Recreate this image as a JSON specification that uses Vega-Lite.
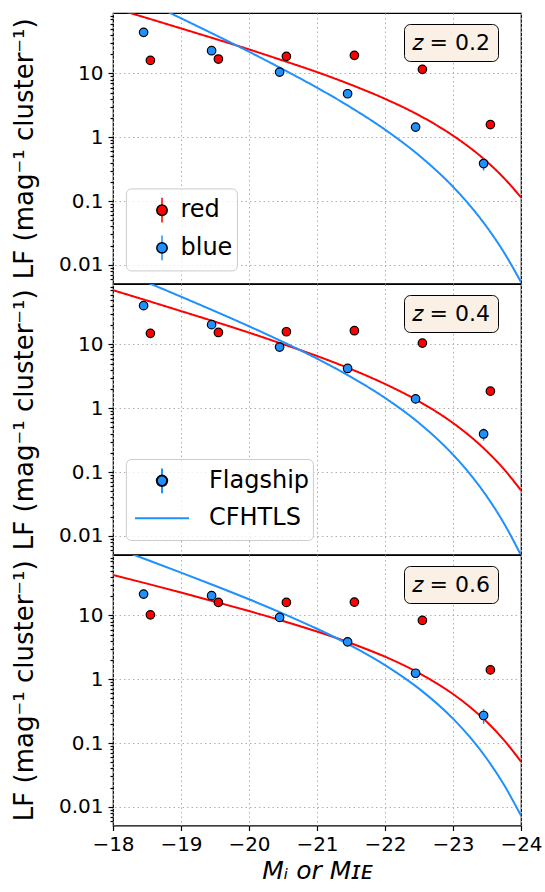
{
  "$schema": "https://vega.github.io/schema/vega-lite/v6.json",
  "padding": {"left": 10, "top": 12, "right": 5, "bottom": 5},
  "spacing": 0,
  "bounds": "flush",
  "datasets": {
    "curves": [
      {"z": 0.2, "sample": "red", "M": -18, "LF": 106},
      {"z": 0.2, "sample": "red", "M": -18.5, "LF": 73.7},
      {"z": 0.2, "sample": "red", "M": -19, "LF": 50.8},
      {"z": 0.2, "sample": "red", "M": -19.5, "LF": 34.9},
      {"z": 0.2, "sample": "red", "M": -20, "LF": 23.8},
      {"z": 0.2, "sample": "red", "M": -20.5, "LF": 15.9},
      {"z": 0.2, "sample": "red", "M": -21, "LF": 10.5},
      {"z": 0.2, "sample": "red", "M": -21.5, "LF": 6.65},
      {"z": 0.2, "sample": "red", "M": -22, "LF": 4.0},
      {"z": 0.2, "sample": "red", "M": -22.5, "LF": 2.21},
      {"z": 0.2, "sample": "red", "M": -23, "LF": 1.06},
      {"z": 0.2, "sample": "red", "M": -23.25, "LF": 0.685},
      {"z": 0.2, "sample": "red", "M": -23.5, "LF": 0.413},
      {"z": 0.2, "sample": "red", "M": -23.75, "LF": 0.229},
      {"z": 0.2, "sample": "red", "M": -24, "LF": 0.114},
      {"z": 0.2, "sample": "blue", "M": -18, "LF": 237},
      {"z": 0.2, "sample": "blue", "M": -18.5, "LF": 132},
      {"z": 0.2, "sample": "blue", "M": -19, "LF": 73.2},
      {"z": 0.2, "sample": "blue", "M": -19.5, "LF": 40.3},
      {"z": 0.2, "sample": "blue", "M": -20, "LF": 21.9},
      {"z": 0.2, "sample": "blue", "M": -20.5, "LF": 11.6},
      {"z": 0.2, "sample": "blue", "M": -21, "LF": 5.98},
      {"z": 0.2, "sample": "blue", "M": -21.5, "LF": 2.92},
      {"z": 0.2, "sample": "blue", "M": -22, "LF": 1.316},
      {"z": 0.2, "sample": "blue", "M": -22.5, "LF": 0.52},
      {"z": 0.2, "sample": "blue", "M": -23, "LF": 0.1674},
      {"z": 0.2, "sample": "blue", "M": -23.25, "LF": 0.0848},
      {"z": 0.2, "sample": "blue", "M": -23.5, "LF": 0.0388},
      {"z": 0.2, "sample": "blue", "M": -23.75, "LF": 0.01564},
      {"z": 0.2, "sample": "blue", "M": -24, "LF": 0.00537},
      {"z": 0.4, "sample": "red", "M": -18, "LF": 70.8},
      {"z": 0.4, "sample": "red", "M": -18.5, "LF": 48.7},
      {"z": 0.4, "sample": "red", "M": -19, "LF": 33.3},
      {"z": 0.4, "sample": "red", "M": -19.5, "LF": 22.7},
      {"z": 0.4, "sample": "red", "M": -20, "LF": 15.3},
      {"z": 0.4, "sample": "red", "M": -20.5, "LF": 10.1},
      {"z": 0.4, "sample": "red", "M": -21, "LF": 6.58},
      {"z": 0.4, "sample": "red", "M": -21.5, "LF": 4.10},
      {"z": 0.4, "sample": "red", "M": -22, "LF": 2.40},
      {"z": 0.4, "sample": "red", "M": -22.5, "LF": 1.281},
      {"z": 0.4, "sample": "red", "M": -23, "LF": 0.587},
      {"z": 0.4, "sample": "red", "M": -23.25, "LF": 0.365},
      {"z": 0.4, "sample": "red", "M": -23.5, "LF": 0.2105},
      {"z": 0.4, "sample": "red", "M": -23.75, "LF": 0.1106},
      {"z": 0.4, "sample": "red", "M": -24, "LF": 0.0516},
      {"z": 0.4, "sample": "blue", "M": -18, "LF": 156},
      {"z": 0.4, "sample": "blue", "M": -18.5, "LF": 93.9},
      {"z": 0.4, "sample": "blue", "M": -19, "LF": 56.0},
      {"z": 0.4, "sample": "blue", "M": -19.5, "LF": 33.1},
      {"z": 0.4, "sample": "blue", "M": -20, "LF": 19.25},
      {"z": 0.4, "sample": "blue", "M": -20.5, "LF": 10.94},
      {"z": 0.4, "sample": "blue", "M": -21, "LF": 5.99},
      {"z": 0.4, "sample": "blue", "M": -21.5, "LF": 3.09},
      {"z": 0.4, "sample": "blue", "M": -22, "LF": 1.45},
      {"z": 0.4, "sample": "blue", "M": -22.5, "LF": 0.587},
      {"z": 0.4, "sample": "blue", "M": -23, "LF": 0.187},
      {"z": 0.4, "sample": "blue", "M": -23.25, "LF": 0.0929},
      {"z": 0.4, "sample": "blue", "M": -23.5, "LF": 0.0411},
      {"z": 0.4, "sample": "blue", "M": -23.75, "LF": 0.01567},
      {"z": 0.4, "sample": "blue", "M": -24, "LF": 0.00497},
      {"z": 0.6, "sample": "red", "M": -18, "LF": 43.2},
      {"z": 0.6, "sample": "red", "M": -18.5, "LF": 31.5},
      {"z": 0.6, "sample": "red", "M": -19, "LF": 22.8},
      {"z": 0.6, "sample": "red", "M": -19.5, "LF": 16.4},
      {"z": 0.6, "sample": "red", "M": -20, "LF": 11.7},
      {"z": 0.6, "sample": "red", "M": -20.5, "LF": 8.20},
      {"z": 0.6, "sample": "red", "M": -21, "LF": 5.60},
      {"z": 0.6, "sample": "red", "M": -21.5, "LF": 3.67},
      {"z": 0.6, "sample": "red", "M": -22, "LF": 2.255},
      {"z": 0.6, "sample": "red", "M": -22.5, "LF": 1.249},
      {"z": 0.6, "sample": "red", "M": -23, "LF": 0.587},
      {"z": 0.6, "sample": "red", "M": -23.25, "LF": 0.368},
      {"z": 0.6, "sample": "red", "M": -23.5, "LF": 0.2131},
      {"z": 0.6, "sample": "red", "M": -23.75, "LF": 0.1113},
      {"z": 0.6, "sample": "red", "M": -24, "LF": 0.0512},
      {"z": 0.6, "sample": "blue", "M": -18, "LF": 118},
      {"z": 0.6, "sample": "blue", "M": -18.5, "LF": 74.6},
      {"z": 0.6, "sample": "blue", "M": -19, "LF": 46.9},
      {"z": 0.6, "sample": "blue", "M": -19.5, "LF": 29.2},
      {"z": 0.6, "sample": "blue", "M": -20, "LF": 17.9},
      {"z": 0.6, "sample": "blue", "M": -20.5, "LF": 10.7},
      {"z": 0.6, "sample": "blue", "M": -21, "LF": 6.18},
      {"z": 0.6, "sample": "blue", "M": -21.5, "LF": 3.37},
      {"z": 0.6, "sample": "blue", "M": -22, "LF": 1.668},
      {"z": 0.6, "sample": "blue", "M": -22.5, "LF": 0.713},
      {"z": 0.6, "sample": "blue", "M": -23, "LF": 0.241},
      {"z": 0.6, "sample": "blue", "M": -23.25, "LF": 0.1233},
      {"z": 0.6, "sample": "blue", "M": -23.5, "LF": 0.0562},
      {"z": 0.6, "sample": "blue", "M": -23.75, "LF": 0.02214},
      {"z": 0.6, "sample": "blue", "M": -24, "LF": 0.00727}
    ],
    "points": [
      {"z": 0.2, "sample": "blue", "M": -18.45, "LF": 44, "lo": 41, "hi": 47},
      {"z": 0.2, "sample": "blue", "M": -19.45, "LF": 22.7, "lo": 21.2, "hi": 24.2},
      {"z": 0.2, "sample": "blue", "M": -20.45, "LF": 10.5, "lo": 9.8, "hi": 11.2},
      {"z": 0.2, "sample": "blue", "M": -21.45, "LF": 4.8, "lo": 4.4, "hi": 5.2},
      {"z": 0.2, "sample": "blue", "M": -22.45, "LF": 1.44, "lo": 1.25, "hi": 1.63},
      {"z": 0.2, "sample": "blue", "M": -23.45, "LF": 0.387, "lo": 0.30, "hi": 0.47},
      {"z": 0.2, "sample": "red", "M": -18.55, "LF": 16.0, "lo": 14.8, "hi": 17.2},
      {"z": 0.2, "sample": "red", "M": -19.55, "LF": 16.8, "lo": 15.6, "hi": 18.0},
      {"z": 0.2, "sample": "red", "M": -20.55, "LF": 18.5, "lo": 17.3, "hi": 19.7},
      {"z": 0.2, "sample": "red", "M": -21.55, "LF": 19.2, "lo": 18.0, "hi": 20.4},
      {"z": 0.2, "sample": "red", "M": -22.55, "LF": 11.6, "lo": 10.7, "hi": 12.5},
      {"z": 0.2, "sample": "red", "M": -23.55, "LF": 1.58, "lo": 1.35, "hi": 1.81},
      {"z": 0.4, "sample": "blue", "M": -18.45, "LF": 40.5, "lo": 37.8, "hi": 43.2},
      {"z": 0.4, "sample": "blue", "M": -19.45, "LF": 20.4, "lo": 19.0, "hi": 21.8},
      {"z": 0.4, "sample": "blue", "M": -20.45, "LF": 9.1, "lo": 8.5, "hi": 9.7},
      {"z": 0.4, "sample": "blue", "M": -21.45, "LF": 4.2, "lo": 3.85, "hi": 4.55},
      {"z": 0.4, "sample": "blue", "M": -22.45, "LF": 1.40, "lo": 1.22, "hi": 1.58},
      {"z": 0.4, "sample": "blue", "M": -23.45, "LF": 0.395, "lo": 0.31, "hi": 0.48},
      {"z": 0.4, "sample": "red", "M": -18.55, "LF": 14.9, "lo": 13.8, "hi": 16.0},
      {"z": 0.4, "sample": "red", "M": -19.55, "LF": 15.4, "lo": 14.3, "hi": 16.5},
      {"z": 0.4, "sample": "red", "M": -20.55, "LF": 15.8, "lo": 14.7, "hi": 16.9},
      {"z": 0.4, "sample": "red", "M": -21.55, "LF": 16.4, "lo": 15.3, "hi": 17.5},
      {"z": 0.4, "sample": "red", "M": -22.55, "LF": 10.5, "lo": 9.7, "hi": 11.3},
      {"z": 0.4, "sample": "red", "M": -23.55, "LF": 1.85, "lo": 1.6, "hi": 2.1},
      {"z": 0.6, "sample": "blue", "M": -18.45, "LF": 21.6, "lo": 20.0, "hi": 23.2},
      {"z": 0.6, "sample": "blue", "M": -19.45, "LF": 20.4, "lo": 19.0, "hi": 21.8},
      {"z": 0.6, "sample": "blue", "M": -20.45, "LF": 9.3, "lo": 8.7, "hi": 9.9},
      {"z": 0.6, "sample": "blue", "M": -21.45, "LF": 3.86, "lo": 3.55, "hi": 4.17},
      {"z": 0.6, "sample": "blue", "M": -22.45, "LF": 1.24, "lo": 1.08, "hi": 1.40},
      {"z": 0.6, "sample": "blue", "M": -23.45, "LF": 0.27, "lo": 0.20, "hi": 0.34},
      {"z": 0.6, "sample": "red", "M": -18.55, "LF": 10.2, "lo": 9.4, "hi": 11.0},
      {"z": 0.6, "sample": "red", "M": -19.55, "LF": 16.0, "lo": 14.9, "hi": 17.1},
      {"z": 0.6, "sample": "red", "M": -20.55, "LF": 16.0, "lo": 14.9, "hi": 17.1},
      {"z": 0.6, "sample": "red", "M": -21.55, "LF": 16.2, "lo": 15.1, "hi": 17.3},
      {"z": 0.6, "sample": "red", "M": -22.55, "LF": 8.35, "lo": 7.7, "hi": 9.0},
      {"z": 0.6, "sample": "red", "M": -23.55, "LF": 1.40, "lo": 1.2, "hi": 1.6}
    ]
  },
  "vconcat": [
    {
      "width": 408,
      "height": 270.5,
      "layer": [
        {
          "data": {"name": "curves"},
          "transform": [{"filter": "datum.z == 0.2"}],
          "mark": {"type": "line", "clip": true, "strokeWidth": 2, "interpolate": "monotone"},
          "encoding": {
            "x": {"field": "M", "type": "quantitative", "scale": {"domain": [-24, -18], "reverse": true, "nice": false, "zero": false},
                  "axis": {"values": [-18, -19, -20, -21, -22, -23, -24], "labels": false, "ticks": false, "title": null, "grid": true, "domain": false}},
            "y": {"field": "LF", "type": "quantitative", "scale": {"type": "log", "domain": [0.0051, 88.5], "nice": false},
                  "axis": {"orient": "left", "values": [0.01, 0.1, 1, 10], "format": "~g", "tickSize": 5, "labelPadding": 5, "grid": true, "title": "LF (mag⁻¹ cluster⁻¹)", "titlePadding": 21, "domain": false}},
            "color": {"field": "sample", "type": "nominal", "scale": {"domain": ["red", "blue"], "range": ["#ff0000", "#1e90ff"]}, "legend": null},
            "strokeDash": {"datum": "L-red", "type": "nominal", "scale": {"domain": ["L-red", "L-blue"], "range": [[1, 0], [1, 0]]},
              "legend": {"orient": "none", "legendX": 12.9, "legendY": 175.4, "title": null, "padding": 3.8, "rowPadding": 1.7, "clipHeight": 36,
                "symbolSize": 1156, "symbolStrokeWidth": 1.5, "symbolStrokeColor": "#ff0000", "symbolOffset": 14.3,
                "labelOffset": 0.5, "labelFontSize": 24, "labelColor": "black", "labelExpr": "replace(datum.label, 'L-', '')",
                "fillColor": "rgba(255,255,255,0.8)", "strokeColor": "#cccccc", "cornerRadius": 5,
                "encode": {"symbols": {"update": {
                  "shape": {"value": "M0,-0.73L0,0.73"},
                  "stroke": {"signal": "datum.value === 'L-red' ? '#ff0000' : '#1e90ff'"},
                  "strokeDash": {"value": [1, 0]}}}}}}
          }
        },
        {
          "data": {"name": "points"},
          "transform": [{"filter": "datum.z == 0.2"}],
          "mark": {"type": "rule", "strokeWidth": 1.5},
          "encoding": {
            "x": {"field": "M", "type": "quantitative"},
            "y": {"field": "lo", "type": "quantitative", "axis": null},
            "y2": {"field": "hi"},
            "stroke": {"field": "sample", "type": "nominal", "scale": {"domain": ["red", "blue"], "range": ["#ff0000", "#1e90ff"]}, "legend": null}
          }
        },
        {
          "data": {"name": "points"},
          "transform": [{"filter": "datum.z == 0.2"}],
          "mark": {"type": "point", "filled": true, "size": 72, "stroke": "black", "strokeWidth": 1.2, "opacity": 1},
          "encoding": {
            "x": {"field": "M", "type": "quantitative"},
            "y": {"field": "LF", "type": "quantitative",
                  "axis": {"orient": "left", "values": [0.006, 0.007, 0.008, 0.009, 0.02, 0.03, 0.04, 0.05, 0.06, 0.07, 0.08, 0.09, 0.2, 0.3, 0.4, 0.5, 0.6, 0.7, 0.8, 0.9, 2, 3, 4, 5, 6, 7, 8, 9, 20, 30, 40, 50, 60, 70, 80], "labels": false, "tickSize": 3, "grid": false, "title": null, "domain": false}},
            "fill": {"field": "sample", "type": "nominal", "scale": {"domain": ["blue", "red"], "range": ["#1e90ff", "#ff0000"]},
              "legend": {"orient": "none", "legendX": 12.9, "legendY": 175.4, "values": ["red", "blue"], "title": null, "padding": 3.8, "rowPadding": 1.7, "clipHeight": 36,
                "symbolType": "M0.306,0A0.306,0.306,0,1,1,-0.306,0A0.306,0.306,0,1,1,0.306,0Z", "symbolSize": 1156, "symbolStrokeColor": "black", "symbolStrokeWidth": 1.5, "symbolOffset": 14.3,
                "labelOffset": 0.5, "labelFontSize": 24, "labelColor": "transparent", "labelExpr": "''",
                "encode": {"symbols": {"update": {"strokeWidth": {"value": 1.2}}}}}},
            "shape": {"field": "z", "type": "nominal", "scale": {"range": ["circle"]},
              "legend": {"orient": "none", "legendX": 291, "legendY": 11, "title": null, "padding": 7.5, "symbolSize": 0, "symbolOpacity": 0, "symbolStrokeWidth": 0,
                "labelOffset": -22, "labelFontSize": 22, "labelColor": "black", "labelExpr": "'𝑧 = ' + datum.label",
                "fillColor": "#faf0e6", "strokeColor": "black", "cornerRadius": 6}}
          }
        }
      ],
      "resolve": {"axis": {"y": "independent"}}
    },
    {
      "width": 408,
      "height": 270.5,
      "layer": [
        {
          "data": {"name": "curves"},
          "transform": [{"filter": "datum.z == 0.4"}],
          "mark": {"type": "line", "clip": true, "strokeWidth": 2, "interpolate": "monotone"},
          "encoding": {
            "x": {"field": "M", "type": "quantitative", "scale": {"domain": [-24, -18], "reverse": true, "nice": false, "zero": false},
                  "axis": {"values": [-18, -19, -20, -21, -22, -23, -24], "labels": false, "ticks": false, "title": null, "grid": true, "domain": false}},
            "y": {"field": "LF", "type": "quantitative", "scale": {"type": "log", "domain": [0.0051, 88.5], "nice": false},
                  "axis": {"orient": "left", "values": [0.01, 0.1, 1, 10], "format": "~g", "tickSize": 5, "labelPadding": 5, "grid": true, "title": "LF (mag⁻¹ cluster⁻¹)", "titlePadding": 21, "domain": false}},
            "color": {"field": "sample", "type": "nominal", "scale": {"domain": ["red", "blue"], "range": ["#ff0000", "#1e90ff"]}, "legend": null},
            "strokeDash": {"datum": "CFHTLS", "type": "nominal", "scale": {"domain": ["Flagship", "CFHTLS"], "range": [[1, 0], [1, 0]]},
              "legend": {"orient": "none", "legendX": 12.9, "legendY": 175, "title": null, "padding": 3.8, "rowPadding": 1.4, "clipHeight": 36,
                "symbolSize": 1156, "symbolStrokeWidth": 2, "symbolStrokeColor": "#1e90ff", "symbolOffset": 14.3,
                "labelOffset": 29, "labelFontSize": 24, "labelColor": "black",
                "fillColor": "rgba(255,255,255,0.8)", "strokeColor": "#cccccc", "cornerRadius": 5,
                "encode": {"symbols": {"update": {
                  "shape": {"signal": "datum.value === 'Flagship' ? 'M0,-0.73L0,0.73' : 'M-1.59,0L1.59,0'"},
                  "stroke": {"value": "#1e90ff"},
                  "strokeDash": {"value": [1, 0]}}}}}}
          }
        },
        {
          "data": {"name": "points"},
          "transform": [{"filter": "datum.z == 0.4"}],
          "mark": {"type": "rule", "strokeWidth": 1.5},
          "encoding": {
            "x": {"field": "M", "type": "quantitative"},
            "y": {"field": "lo", "type": "quantitative", "axis": null},
            "y2": {"field": "hi"},
            "stroke": {"field": "sample", "type": "nominal", "scale": {"domain": ["red", "blue"], "range": ["#ff0000", "#1e90ff"]}, "legend": null}
          }
        },
        {
          "data": {"name": "points"},
          "transform": [{"filter": "datum.z == 0.4"}],
          "mark": {"type": "point", "filled": true, "size": 72, "stroke": "black", "strokeWidth": 1.2, "opacity": 1},
          "encoding": {
            "x": {"field": "M", "type": "quantitative"},
            "y": {"field": "LF", "type": "quantitative",
                  "axis": {"orient": "left", "values": [0.006, 0.007, 0.008, 0.009, 0.02, 0.03, 0.04, 0.05, 0.06, 0.07, 0.08, 0.09, 0.2, 0.3, 0.4, 0.5, 0.6, 0.7, 0.8, 0.9, 2, 3, 4, 5, 6, 7, 8, 9, 20, 30, 40, 50, 60, 70, 80], "labels": false, "tickSize": 3, "grid": false, "title": null, "domain": false}},
            "fill": {"field": "sample", "type": "nominal", "scale": {"domain": ["blue", "red"], "range": ["#1e90ff", "#ff0000"]},
              "legend": {"orient": "none", "legendX": 12.9, "legendY": 175, "values": ["blue"], "title": null, "padding": 3.8, "rowPadding": 1.4, "clipHeight": 36,
                "symbolType": "M0.306,0A0.306,0.306,0,1,1,-0.306,0A0.306,0.306,0,1,1,0.306,0Z", "symbolSize": 1156, "symbolStrokeColor": "black", "symbolStrokeWidth": 2, "symbolOffset": 14.3,
                "labelOffset": 29, "labelFontSize": 24, "labelColor": "transparent", "labelExpr": "''",
                "encode": {"symbols": {"update": {"strokeWidth": {"value": 1.2}}}}}},
            "shape": {"field": "z", "type": "nominal", "scale": {"range": ["circle"]},
              "legend": {"orient": "none", "legendX": 291, "legendY": 11, "title": null, "padding": 7.5, "symbolSize": 0, "symbolOpacity": 0, "symbolStrokeWidth": 0,
                "labelOffset": -22, "labelFontSize": 22, "labelColor": "black", "labelExpr": "'𝑧 = ' + datum.label",
                "fillColor": "#faf0e6", "strokeColor": "black", "cornerRadius": 6}}
          }
        }
      ],
      "resolve": {"axis": {"y": "independent"}}
    },
    {
      "width": 408,
      "height": 270.5,
      "layer": [
        {
          "data": {"name": "curves"},
          "transform": [{"filter": "datum.z == 0.6"}],
          "mark": {"type": "line", "clip": true, "strokeWidth": 2, "interpolate": "monotone"},
          "encoding": {
            "x": {"field": "M", "type": "quantitative", "scale": {"domain": [-24, -18], "reverse": true, "nice": false, "zero": false},
                  "axis": {"values": [-18, -19, -20, -21, -22, -23, -24], "format": "d", "tickSize": 5, "labelPadding": 4, "labelFlush": false, "grid": true, "domain": false,
                           "title": "Mᵢ or Mɪᴇ", "titleFontStyle": "italic", "titleFontSize": 25, "titlePadding": 4}},
            "y": {"field": "LF", "type": "quantitative", "scale": {"type": "log", "domain": [0.0051, 88.5], "nice": false},
                  "axis": {"orient": "left", "values": [0.01, 0.1, 1, 10], "format": "~g", "tickSize": 5, "labelPadding": 5, "grid": true, "title": "LF (mag⁻¹ cluster⁻¹)", "titlePadding": 21, "domain": false}},
            "color": {"field": "sample", "type": "nominal", "scale": {"domain": ["red", "blue"], "range": ["#ff0000", "#1e90ff"]}, "legend": null}
          }
        },
        {
          "data": {"name": "points"},
          "transform": [{"filter": "datum.z == 0.6"}],
          "mark": {"type": "rule", "strokeWidth": 1.5},
          "encoding": {
            "x": {"field": "M", "type": "quantitative"},
            "y": {"field": "lo", "type": "quantitative", "axis": null},
            "y2": {"field": "hi"},
            "stroke": {"field": "sample", "type": "nominal", "scale": {"domain": ["red", "blue"], "range": ["#ff0000", "#1e90ff"]}, "legend": null}
          }
        },
        {
          "data": {"name": "points"},
          "transform": [{"filter": "datum.z == 0.6"}],
          "mark": {"type": "point", "filled": true, "size": 72, "stroke": "black", "strokeWidth": 1.2, "opacity": 1},
          "encoding": {
            "x": {"field": "M", "type": "quantitative"},
            "y": {"field": "LF", "type": "quantitative",
                  "axis": {"orient": "left", "values": [0.006, 0.007, 0.008, 0.009, 0.02, 0.03, 0.04, 0.05, 0.06, 0.07, 0.08, 0.09, 0.2, 0.3, 0.4, 0.5, 0.6, 0.7, 0.8, 0.9, 2, 3, 4, 5, 6, 7, 8, 9, 20, 30, 40, 50, 60, 70, 80], "labels": false, "tickSize": 3, "grid": false, "title": null, "domain": false}},
            "fill": {"field": "sample", "type": "nominal", "scale": {"domain": ["blue", "red"], "range": ["#1e90ff", "#ff0000"]}, "legend": null},
            "shape": {"field": "z", "type": "nominal", "scale": {"range": ["circle"]},
              "legend": {"orient": "none", "legendX": 291, "legendY": 11, "title": null, "padding": 7.5, "symbolSize": 0, "symbolOpacity": 0, "symbolStrokeWidth": 0,
                "labelOffset": -22, "labelFontSize": 22, "labelColor": "black", "labelExpr": "'𝑧 = ' + datum.label",
                "fillColor": "#faf0e6", "strokeColor": "black", "cornerRadius": 6}}
          }
        }
      ],
      "resolve": {"axis": {"y": "independent"}}
    }
  ],
  "resolve": {
    "scale": {"color": "independent", "fill": "independent", "stroke": "independent", "shape": "independent", "strokeDash": "independent"},
    "legend": {"color": "independent", "fill": "independent", "stroke": "independent", "shape": "independent", "strokeDash": "independent"}
  },
  "config": {
    "font": "DejaVu Sans",
    "view": {"stroke": "black", "strokeWidth": 1.2},
    "axis": {
      "labelFont": "DejaVu Sans", "labelFontSize": 20, "labelColor": "black",
      "tickColor": "black", "tickWidth": 1.2,
      "gridColor": "#b0b0b0", "gridDash": [1.5, 3], "gridWidth": 1,
      "titleFont": "DejaVu Sans", "titleFontWeight": "normal", "titleColor": "black", "titleFontSize": 26
    },
    "legend": {"labelFont": "DejaVu Sans"}
  }
}
